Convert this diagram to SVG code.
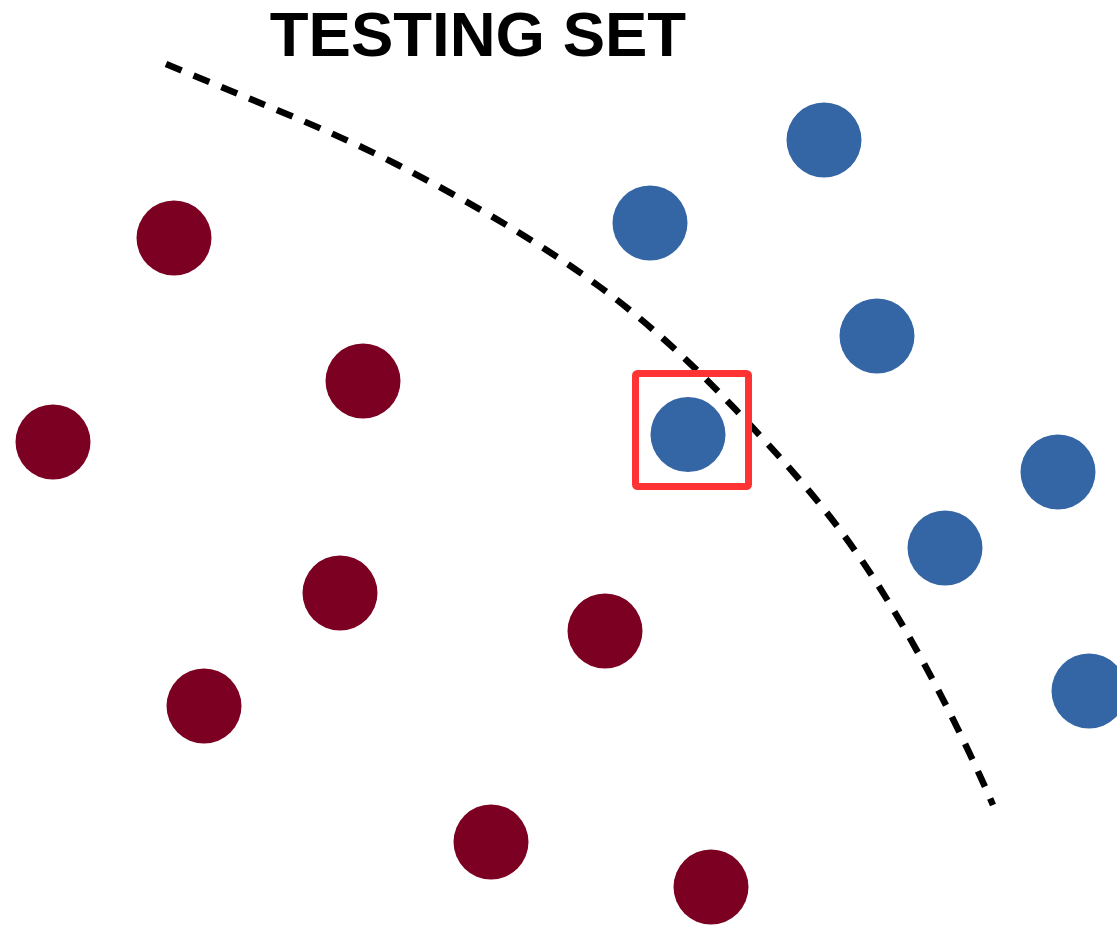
<svg xmlns="http://www.w3.org/2000/svg" width="1117" height="925" viewBox="0 0 1117 925">
<style>
.title{font-family:"Liberation Sans",Arial,sans-serif;font-weight:bold;font-size:63.5px;fill:#000}
.r{fill:#7b0022}
.b{fill:#3465a4}
.boundary{fill:none;stroke:#000;stroke-width:6.5;stroke-dasharray:17 13}
.sel{fill:none;stroke:#ff3333;stroke-width:7}
</style>
<rect width="1117" height="925" fill="#fff"/>
<text class="title" x="478" y="56" text-anchor="middle">TESTING SET</text>
<g id="connectors">
<path class="boundary" d="M166,64 C243.3,96.7 325.7,127.8 398,165 C470.3,202.2 540.8,243.2 600,287 C659.2,330.8 706.7,378.3 753,428 C799.3,477.7 838,522.2 878,585 C918,647.8 959.7,728.3 993,805"/>
</g>
<g id="red">
<circle id="r1" class="r" cx="174" cy="238" r="37.5"/>
<circle id="r2" class="r" cx="363" cy="381" r="37.5"/>
<circle id="r3" class="r" cx="53" cy="442" r="37.5"/>
<circle id="r4" class="r" cx="340" cy="593" r="37.5"/>
<circle id="r5" class="r" cx="204" cy="706" r="37.5"/>
<circle id="r6" class="r" cx="605" cy="631" r="37.5"/>
<circle id="r7" class="r" cx="491" cy="842" r="37.5"/>
<circle id="r8" class="r" cx="711" cy="887" r="37.5"/>
</g>
<g id="blue">
<circle id="b1" class="b" cx="824" cy="140" r="37.5"/>
<circle id="b2" class="b" cx="650" cy="223" r="37.5"/>
<circle id="b3" class="b" cx="877" cy="336" r="37.5"/>
<circle id="b4" class="b" cx="688" cy="434.5" r="37.5"/>
<circle id="b5" class="b" cx="1058" cy="472" r="37.5"/>
<circle id="b6" class="b" cx="945" cy="548" r="37.5"/>
<circle id="b7" class="b" cx="1089" cy="691" r="37.5"/>
</g>
<g id="selection">
<rect class="sel" x="635.5" y="373.5" width="113" height="113" rx="2"/>
</g>
</svg>
